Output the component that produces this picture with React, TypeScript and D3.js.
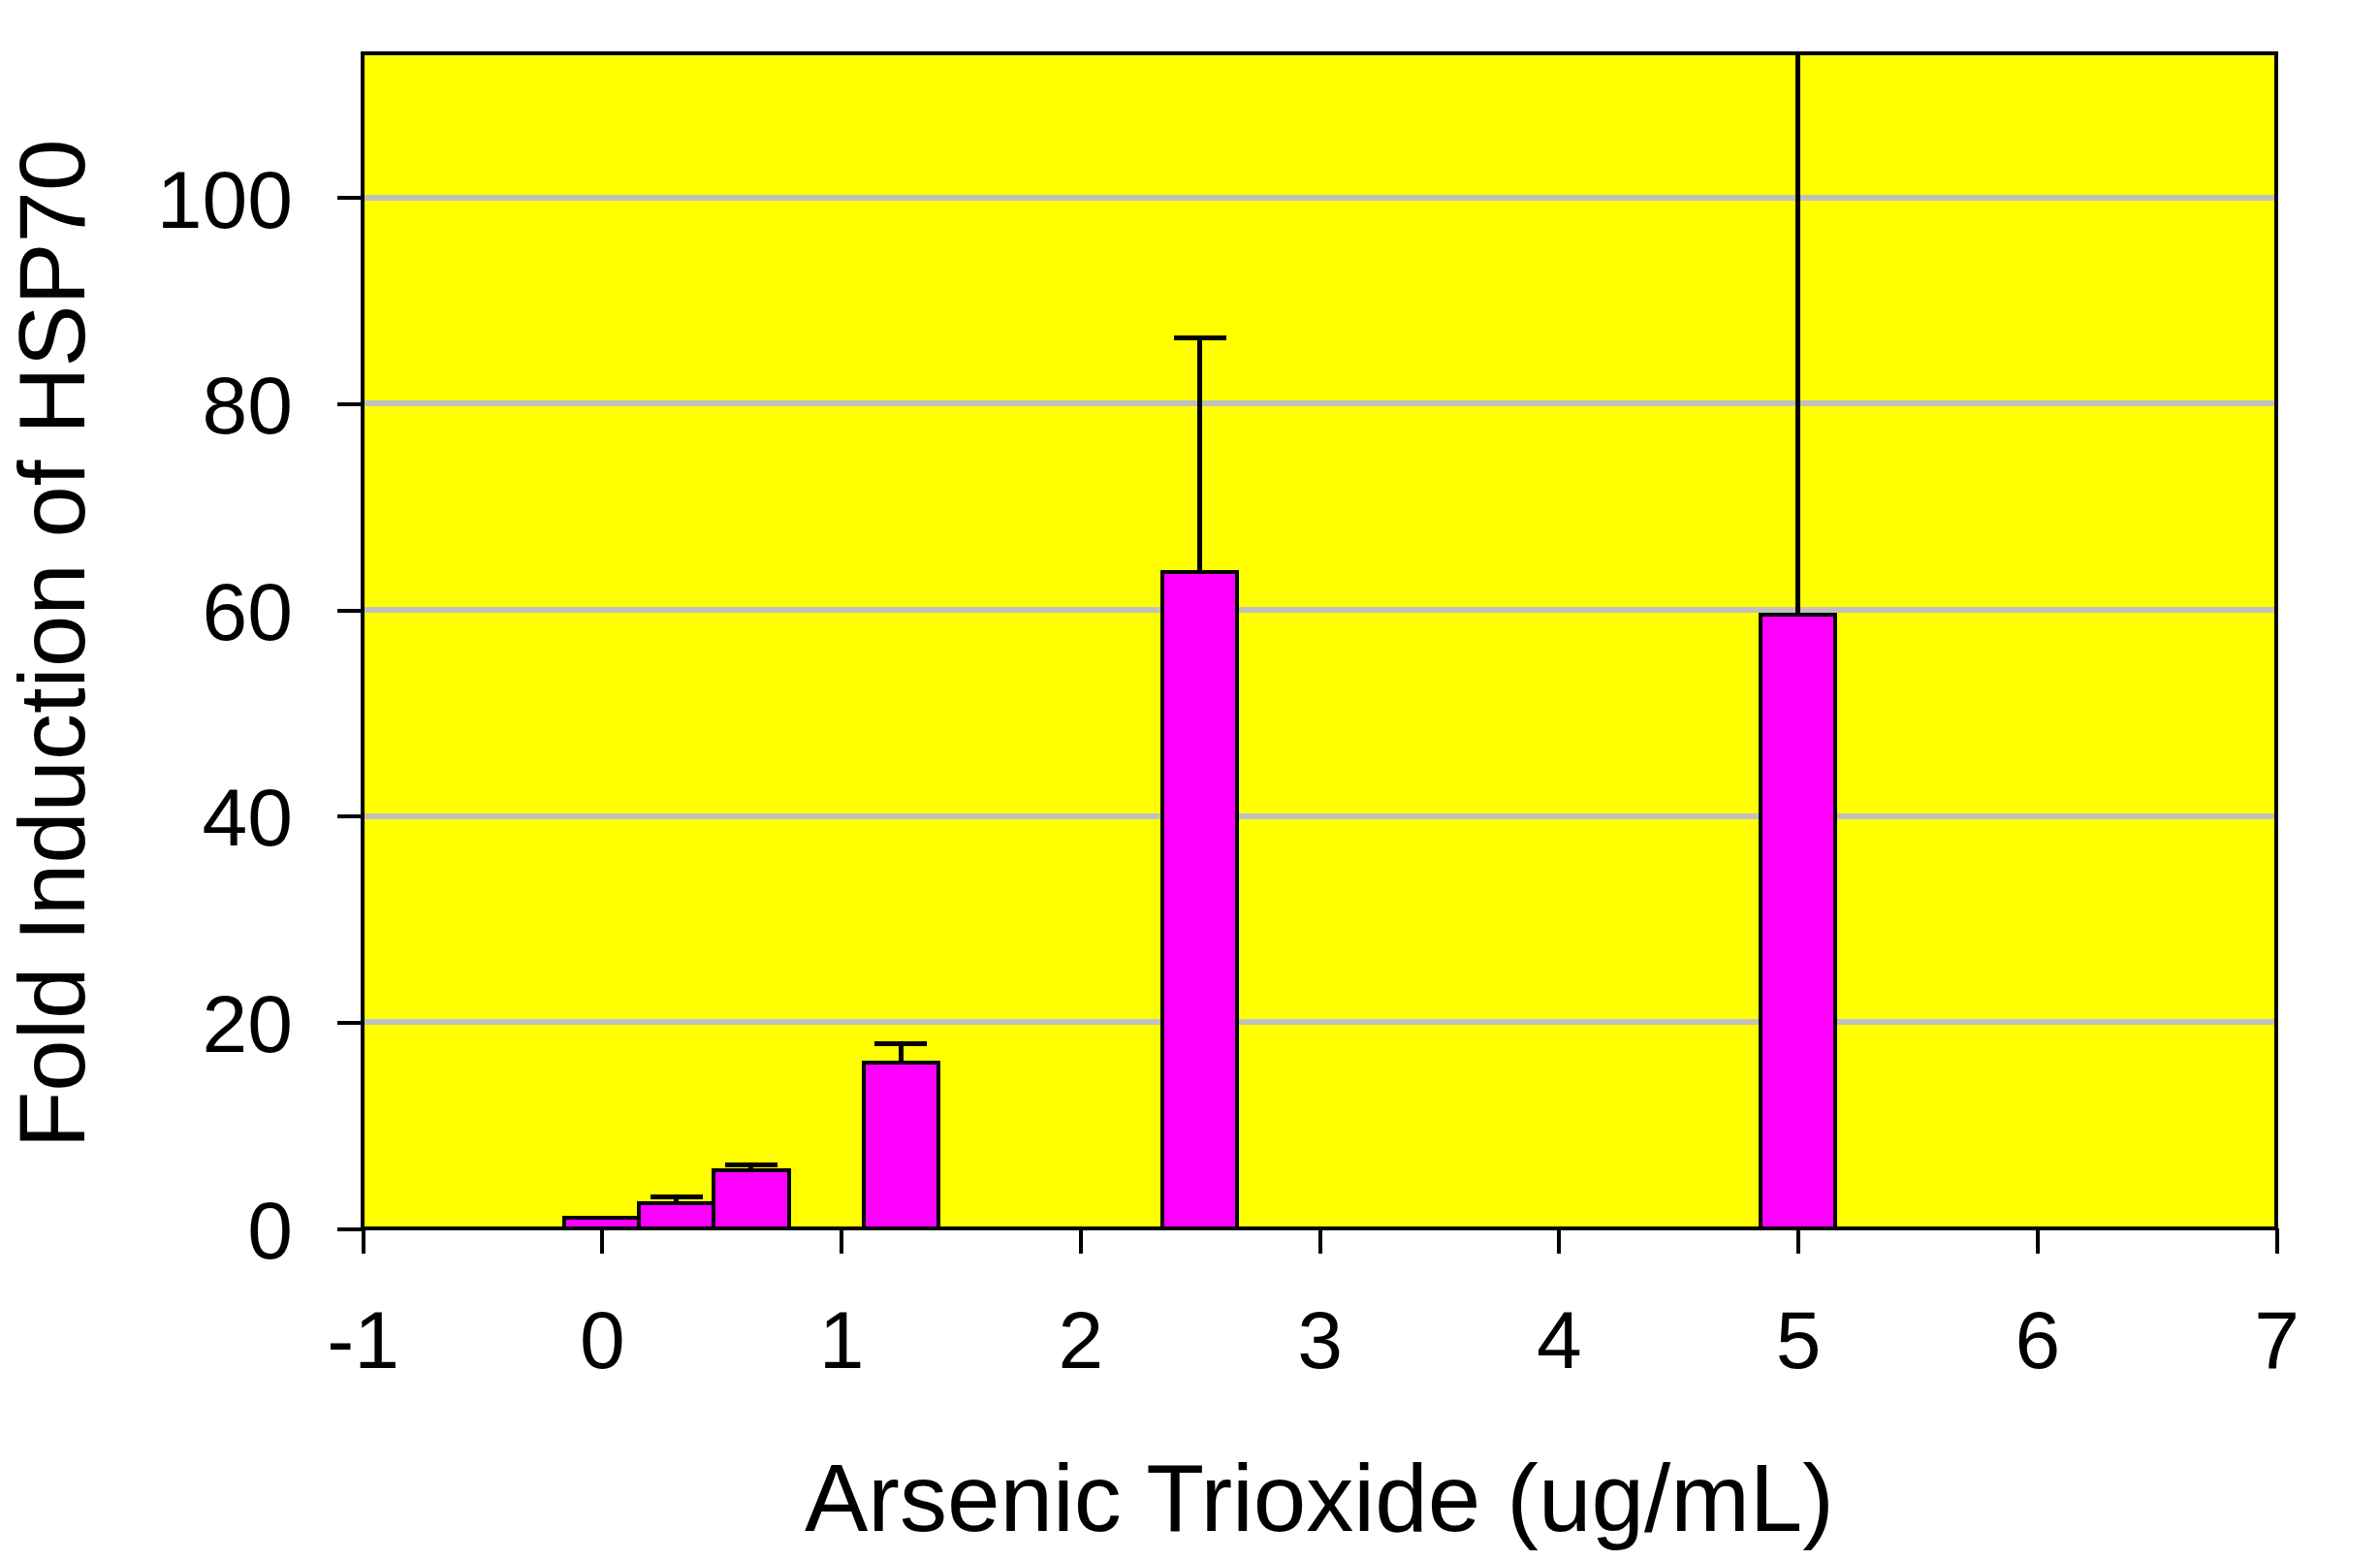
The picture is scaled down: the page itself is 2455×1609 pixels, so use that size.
import React, { useEffect, useRef } from "react";
import * as d3 from "d3";

// doses (ug/mL) and fold induction of HSP70, with upward error bars
const doses = [0, 0.3125, 0.625, 1.25, 2.5, 5];
const fold = [1.0, 2.4, 5.6, 16.1, 63.7, 59.5];
const errors = [0, 0.7, 0.6, 1.8, 22.7, 60];

const xTicks = [-1, 0, 1, 2, 3, 4, 5, 6, 7];
const yTicks = [0, 20, 40, 60, 80, 100];
const gridValues = [20, 40, 60, 80, 100];

const W = 2455;
const H = 1609;
const FONT = "'Liberation Sans', Arial, Helvetica, sans-serif";

export default function App() {
  const ref = useRef<SVGSVGElement>(null);

  useEffect(() => {
    document.body.style.margin = "0";
    const svg = d3.select(ref.current);
    svg.selectAll("*").remove();

    const left = 374, right = 2348, top = 55, bottom = 1267;
    const x = d3.scaleLinear().domain([-1, 7]).range([left, right]);
    const y = d3.scaleLinear().domain([0, 114]).range([bottom, top]);
    const barW = x(0.3125) - x(0);

    svg.append("defs").append("clipPath").attr("id", "plotclip")
      .append("rect")
      .attr("x", left).attr("y", top)
      .attr("width", right - left).attr("height", bottom - top);

    // background
    svg.append("rect")
      .attr("x", left).attr("y", top)
      .attr("width", right - left).attr("height", bottom - top)
      .attr("fill", "#ffff00");

    // gridlines
    svg.selectAll("line.grid")
      .data(gridValues)
      .enter()
      .append("line")
      .attr("class", "grid")
      .attr("x1", left).attr("x2", right)
      .attr("y1", d => y(d)).attr("y2", d => y(d))
      .attr("stroke", "#c0c0c0")
      .attr("stroke-width", 6)
      .attr("shape-rendering", "crispEdges");

    const plot = svg.append("g")
      .attr("clip-path", "url(#plotclip)")
      .attr("shape-rendering", "crispEdges");

    // error bars
    const idx = d3.range(doses.length).filter(i => errors[i] > 0);
    plot.selectAll("line.err")
      .data(idx)
      .enter()
      .append("line")
      .attr("x1", i => x(doses[i])).attr("x2", i => x(doses[i]))
      .attr("y1", i => y(fold[i])).attr("y2", i => y(fold[i] + errors[i]))
      .attr("stroke", "#000").attr("stroke-width", 5);
    plot.selectAll("line.cap")
      .data(idx)
      .enter()
      .append("line")
      .attr("x1", i => x(doses[i]) - 27).attr("x2", i => x(doses[i]) + 27)
      .attr("y1", i => y(fold[i] + errors[i])).attr("y2", i => y(fold[i] + errors[i]))
      .attr("stroke", "#000").attr("stroke-width", 5);

    // bars
    plot.selectAll("rect.bar")
      .data(d3.range(doses.length))
      .enter()
      .append("rect")
      .attr("x", i => x(doses[i]) - barW / 2)
      .attr("y", i => y(fold[i]))
      .attr("width", barW)
      .attr("height", i => bottom - y(fold[i]))
      .attr("fill", "#ff00ff")
      .attr("stroke", "#000")
      .attr("stroke-width", 4);

    // frame
    svg.append("rect")
      .attr("x", left).attr("y", top)
      .attr("width", right - left).attr("height", bottom - top)
      .attr("fill", "none")
      .attr("stroke", "#000")
      .attr("stroke-width", 4)
      .attr("shape-rendering", "crispEdges");

    // x axis
    const xAxis = svg.append("g")
      .attr("transform", `translate(0,${bottom})`)
      .call(d3.axisBottom(x).tickValues(xTicks).tickSize(26).tickPadding(58).tickFormat(d => String(d)));
    xAxis.select(".domain").remove();
    xAxis.selectAll("line").attr("stroke", "#000").attr("stroke-width", 4).attr("shape-rendering", "crispEdges");
    xAxis.selectAll("text")
      .attr("font-family", FONT).attr("font-size", 84).attr("fill", "#000")
      .attr("dy", "0.71em");

    // y axis
    const yAxis = svg.append("g")
      .attr("transform", `translate(${left},0)`)
      .call(d3.axisLeft(y).tickValues(yTicks).tickSize(26).tickPadding(46).tickFormat(d => String(d)));
    yAxis.select(".domain").remove();
    yAxis.selectAll("line").attr("stroke", "#000").attr("stroke-width", 4).attr("shape-rendering", "crispEdges");
    yAxis.selectAll("text")
      .attr("font-family", FONT).attr("font-size", 84).attr("fill", "#000")
      .attr("dy", "0.36em");

    // titles
    svg.append("text")
      .attr("x", 1361).attr("y", 1579)
      .attr("text-anchor", "middle")
      .attr("font-family", FONT).attr("font-size", 98)
      .text("Arsenic Trioxide (ug/mL)");

    svg.append("text")
      .attr("transform", `translate(87,664) rotate(-90)`)
      .attr("text-anchor", "middle")
      .attr("font-family", FONT).attr("font-size", 96)
      .text("Fold Induction of HSP70");
  }, []);

  return <svg ref={ref} width={W} height={H} style={{ display: "block", background: "#fff" }} />;
}
